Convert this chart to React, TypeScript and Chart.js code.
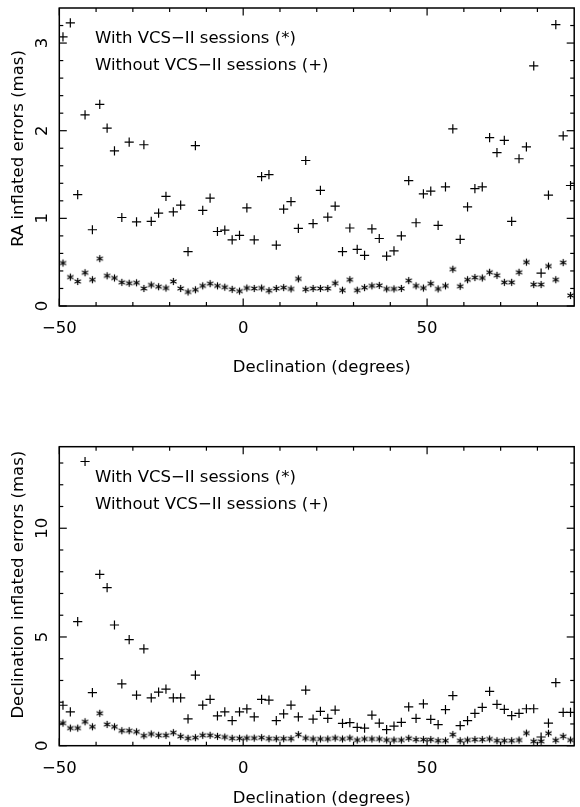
import React, { useEffect, useRef } from "react";
import { Chart, registerables } from "chart.js";

Chart.register(...registerables);

// ---- data ----
const declination = [
  -49, -47, -45, -43, -41, -39, -37, -35, -33, -31,
  -29, -27, -25, -23, -21, -19, -17, -15, -13, -11,
  -9, -7, -5, -3, -1, 1, 3, 5, 7, 9,
  11, 13, 15, 17, 19, 21, 23, 25, 27, 29,
  31, 33, 35, 37, 39, 41, 43, 45, 47, 49,
  51, 53, 55, 57, 59, 61, 63, 65, 67, 69,
  71, 73, 75, 77, 79, 81, 83, 85, 87, 89,
];

const raWithVcs2 = [
  0.49, 0.33, 0.28, 0.38, 0.3, 0.54, 0.345, 0.32, 0.27, 0.26,
  0.265, 0.2, 0.24, 0.22, 0.205, 0.28, 0.2, 0.16, 0.185, 0.23,
  0.255, 0.23, 0.215, 0.19, 0.17, 0.205, 0.2, 0.205, 0.175, 0.2,
  0.21, 0.195, 0.31, 0.19, 0.2, 0.2, 0.2, 0.26, 0.18, 0.3,
  0.18, 0.21, 0.23, 0.235, 0.195, 0.195, 0.2, 0.29, 0.23, 0.205,
  0.255, 0.195, 0.23, 0.42, 0.225, 0.3, 0.325, 0.32, 0.385, 0.35,
  0.27, 0.27, 0.385, 0.5, 0.245, 0.245, 0.455, 0.3, 0.495, 0.12,
];

const raWithoutVcs2 = [
  3.07, 3.23, 1.27, 2.18, 0.87, 2.3, 2.03, 1.77, 1.01, 1.87,
  0.96, 1.84, 0.965, 1.06, 1.25, 1.075, 1.15, 0.62, 1.83, 1.09,
  1.23, 0.85, 0.865, 0.755, 0.805, 1.12, 0.755, 1.475, 1.5, 0.695,
  1.105, 1.19, 0.885, 1.66, 0.94, 1.32, 1.015, 1.14, 0.62, 0.89,
  0.645, 0.577, 0.88, 0.77, 0.57, 0.63, 0.8, 1.43, 0.95, 1.28,
  1.31, 0.92, 1.36, 2.02, 0.76, 1.13, 1.34, 1.36, 1.92, 1.75,
  1.89, 0.965, 1.68, 1.815, 2.74, 0.375, 1.265, 3.21, 1.94, 1.375,
];

const decWithVcs2 = [
  1.04, 0.81, 0.81, 1.1, 0.87, 1.49, 0.98, 0.87, 0.69, 0.69,
  0.64, 0.46, 0.54, 0.48, 0.48, 0.6, 0.43, 0.34, 0.37, 0.48,
  0.48, 0.43, 0.4, 0.34, 0.34, 0.35, 0.35, 0.37, 0.32, 0.32,
  0.32, 0.32, 0.51, 0.35, 0.31, 0.31, 0.31, 0.35, 0.31, 0.35,
  0.26, 0.31, 0.31, 0.31, 0.26, 0.26, 0.26, 0.34, 0.28, 0.28,
  0.28, 0.23, 0.23, 0.51, 0.23, 0.26, 0.28, 0.28, 0.31, 0.23,
  0.23, 0.23, 0.26, 0.58, 0.2, 0.2, 0.57, 0.25, 0.43, 0.26,
];

const decWithoutVcs2 = [
  1.86, 1.56, 5.71, 13.07, 2.44, 7.88, 7.27, 5.55, 2.84, 4.88,
  2.33, 4.45, 2.2, 2.46, 2.6, 2.2, 2.2, 1.23, 3.25, 1.87,
  2.13, 1.37, 1.56, 1.15, 1.56, 1.69, 1.33, 2.13, 2.1, 1.15,
  1.46, 1.87, 1.33, 2.56, 1.22, 1.58, 1.26, 1.64, 1.03, 1.06,
  0.84, 0.81, 1.41, 1.04, 0.74, 0.9, 1.07, 1.79, 1.26, 1.92,
  1.21, 0.97, 1.66, 2.3, 0.92, 1.15, 1.49, 1.76, 2.5, 1.9,
  1.67, 1.38, 1.49, 1.7, 1.7, 0.4, 1.04, 2.9, 1.53, 1.53,
];

const xRange = [-50, 90];
const raRange = [0, 3.4];
const decRange = [0, 13.75];

const xMajorTicks = [-50, 0, 50];
const xMinorTicks = [-40, -30, -20, -10, 10, 20, 30, 40, 60, 70, 80];
const raMajorTicks = [0, 1, 2, 3];
const raMinorTicks = [0.2, 0.4, 0.6, 0.8, 1.2, 1.4, 1.6, 1.8, 2.2, 2.4, 2.6, 2.8, 3.2];
const decMajorTicks = [0, 5, 10];
const decMinorTicks = [1, 2, 3, 4, 6, 7, 8, 9, 11, 12, 13];

const xTitle = "Declination (degrees)";
const raTitle = "RA inflated errors (mas)";
const decTitle = "Declination inflated errors (mas)";
const legendWith = "With VCS\u2212II sessions (*)";
const legendWithout = "Without VCS\u2212II sessions (+)";

// ---- styling helpers ----
const FONT = '16.5px "DejaVu Sans"';

function makeAsterisk(): HTMLCanvasElement {
  const c = document.createElement("canvas");
  c.width = 11;
  c.height = 11;
  const g = c.getContext("2d")!;
  g.strokeStyle = "#000";
  g.lineWidth = 1.2;
  const r = 3.6;
  const cx = 5.5;
  const cy = 5.5;
  [90, 30, 150].forEach((deg) => {
    const a = (deg * Math.PI) / 180;
    g.beginPath();
    g.moveTo(cx - r * Math.cos(a), cy - r * Math.sin(a));
    g.lineTo(cx + r * Math.cos(a), cy + r * Math.sin(a));
    g.stroke();
  });
  return c;
}

function fmt(v: number) {
  return v < 0 ? "\u2212" + String(-v) : String(v);
}

type PanelCfg = {
  withVals: number[];
  withoutVals: number[];
  yRange: number[];
  yMajor: number[];
  yMinor: number[];
  yTitle: string;
  padding: { left: number; right: number; top: number; bottom: number };
  xLabelDy: number;
  xTitleDy: number;
  yTitleDy: number;
};

function framePlugin(cfg: PanelCfg) {
  return {
    id: "pgplotFrame",
    afterDraw(chart: any) {
      const { ctx, chartArea: a, scales } = chart;
      const x = scales.x;
      const y = scales.y;
      ctx.save();
      ctx.strokeStyle = "#000";
      ctx.lineWidth = 1.5;
      ctx.strokeRect(a.left, a.top, a.right - a.left, a.bottom - a.top);
      ctx.lineWidth = 1.2;
      const line = (x1: number, y1: number, x2: number, y2: number) => {
        ctx.beginPath();
        ctx.moveTo(x1, y1);
        ctx.lineTo(x2, y2);
        ctx.stroke();
      };
      const xt = (v: number, len: number) => {
        const p = x.getPixelForValue(v);
        line(p, a.bottom, p, a.bottom - len);
        line(p, a.top, p, a.top + len);
      };
      const yt = (v: number, len: number) => {
        const p = y.getPixelForValue(v);
        line(a.left, p, a.left + len, p);
        line(a.right, p, a.right - len, p);
      };
      xMajorTicks.forEach((v) => xt(v, 7.5));
      xMinorTicks.forEach((v) => xt(v, 4));
      cfg.yMajor.forEach((v) => yt(v, 7.5));
      cfg.yMinor.forEach((v) => yt(v, 4));

      ctx.fillStyle = "#000";
      ctx.font = FONT;
      ctx.textBaseline = "alphabetic";
      ctx.textAlign = "center";
      xMajorTicks.forEach((v) => {
        ctx.fillText(fmt(v), x.getPixelForValue(v), a.bottom + cfg.xLabelDy);
      });
      ctx.fillText(xTitle, (a.left + a.right) / 2 + 5, a.bottom + cfg.xTitleDy);

      cfg.yMajor.forEach((v) => {
        ctx.save();
        ctx.translate(a.left - 12, y.getPixelForValue(v));
        ctx.rotate(-Math.PI / 2);
        ctx.fillText(fmt(v), 0, 0);
        ctx.restore();
      });
      ctx.save();
      ctx.translate(a.left - 36.6, a.top + cfg.yTitleDy);
      ctx.rotate(-Math.PI / 2);
      ctx.fillText(cfg.yTitle, 0, 0);
      ctx.restore();

      ctx.textAlign = "left";
      ctx.fillText(legendWith, a.left + 35.7, a.top + 35.3);
      ctx.fillText(legendWithout, a.left + 35.7, a.top + 62);
      ctx.restore();
    },
  };
}

function buildChart(canvas: HTMLCanvasElement, cfg: PanelCfg, asterisk: HTMLCanvasElement) {
  const withPts = declination.map((d, i) => ({ x: d, y: cfg.withVals[i] }));
  const withoutPts = declination.map((d, i) => ({ x: d, y: cfg.withoutVals[i] }));
  return new Chart(canvas, {
    type: "scatter",
    data: {
      datasets: [
        {
          label: "With VCS-II sessions",
          data: withPts,
          pointStyle: asterisk as any,
          pointRadius: 4,
          borderColor: "#000",
          backgroundColor: "#000",
        },
        {
          label: "Without VCS-II sessions",
          data: withoutPts,
          pointStyle: "cross",
          pointRadius: 4.6,
          borderWidth: 1.2,
          borderColor: "#000",
          backgroundColor: "#000",
        },
      ],
    },
    options: {
      animation: false,
      responsive: false,
      events: [],
      layout: { padding: cfg.padding },
      plugins: { legend: { display: false }, tooltip: { enabled: false } },
      scales: {
        x: { type: "linear", min: xRange[0], max: xRange[1], display: false },
        y: { type: "linear", min: cfg.yRange[0], max: cfg.yRange[1], display: false },
      },
    },
    plugins: [framePlugin(cfg)],
  });
}

export default function App() {
  const topRef = useRef<HTMLCanvasElement>(null);
  const botRef = useRef<HTMLCanvasElement>(null);

  useEffect(() => {
    const asterisk = makeAsterisk();
    const c1 = buildChart(
      topRef.current!,
      {
        withVals: raWithVcs2,
        withoutVals: raWithoutVcs2,
        yRange: raRange,
        yMajor: raMajorTicks,
        yMinor: raMinorTicks,
        yTitle: raTitle,
        padding: { left: 59.3, right: 0.7, top: 8, bottom: 94 },
        xLabelDy: 27,
        xTitleDy: 65.5,
        yTitleDy: 140.5,
      },
      asterisk
    );
    const c2 = buildChart(
      botRef.current!,
      {
        withVals: decWithVcs2,
        withoutVals: decWithoutVcs2,
        yRange: decRange,
        yMajor: decMajorTicks,
        yMinor: decMinorTicks,
        yTitle: decTitle,
        padding: { left: 59.3, right: 0.7, top: 46.7, bottom: 61.3 },
        xLabelDy: 27,
        xTitleDy: 57,
        yTitleDy: 138,
      },
      asterisk
    );
    return () => {
      c1.destroy();
      c2.destroy();
    };
  }, []);

  return (
    <div style={{ position: "absolute", left: 0, top: 0, width: 580, height: 807, background: "#fff" }}>
      <canvas ref={topRef} width={580} height={400} style={{ position: "absolute", left: 0, top: 0, display: "block" }} />
      <canvas ref={botRef} width={580} height={407} style={{ position: "absolute", left: 0, top: 400, display: "block" }} />
    </div>
  );
}
